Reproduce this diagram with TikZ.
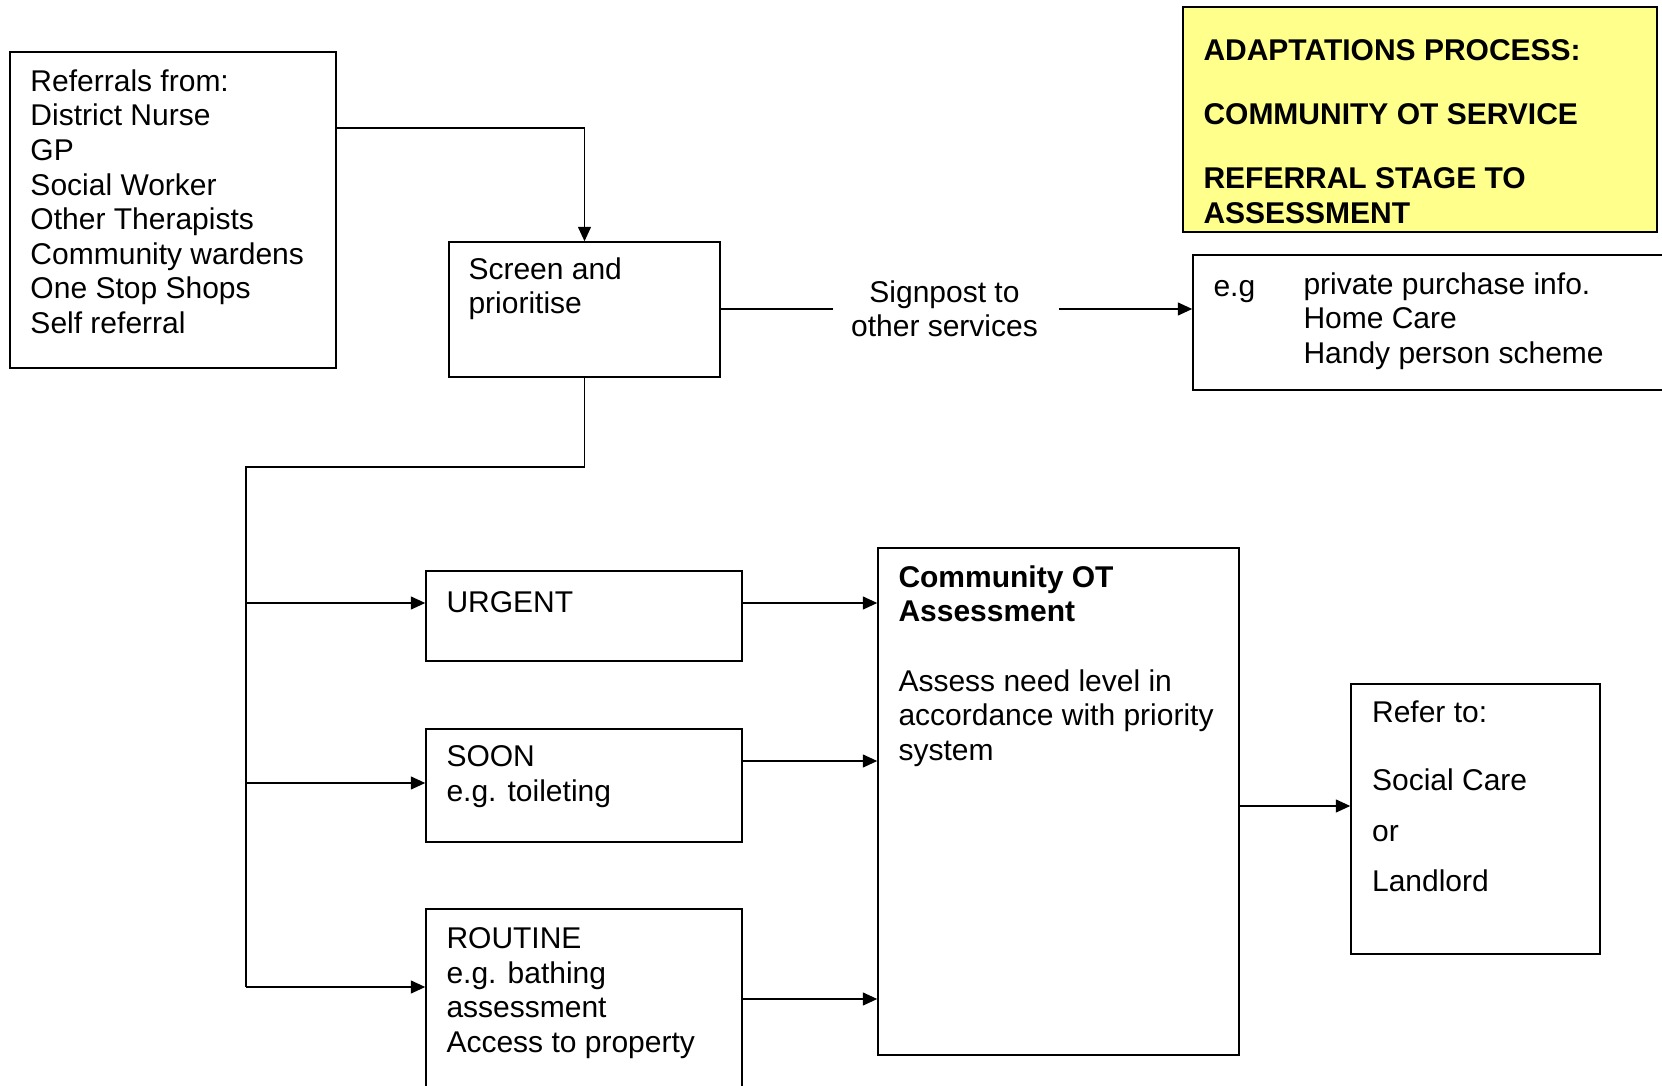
\documentclass[tikz,border=0pt]{standalone}
\usepackage{fontspec}
\setmainfont{Liberation Sans}
\usetikzlibrary{arrows.meta,fit}
\definecolor{paleyellow}{HTML}{FFFF8C}
\begin{document}
\begin{tikzpicture}[x=0.4pt,y=-0.4pt,
  box/.style={draw, line width=0.6pt, inner sep=0pt, fit={#1}},
  txt/.style={anchor=north west, inner sep=0pt, align=left,
    font=\fontsize{12}{13.84}\selectfont, execute at begin node=\strut},
  conn/.style={line width=0.6pt},
  arr/.style={line width=0.6pt, -{Triangle[length=5.8pt,width=5.2pt]}}]
\useasboundingbox (0,0) rectangle (1662,1086);
\fill[white] (0,0) rectangle (1662,1086);
\clip (0,0) rectangle (1662,1086);

% boxes
\node[box={(10,52) (336,368)}] (ref) {};
\node[box={(449,242) (720,377)}] (screen) {};
\node[box={(1183,7) (1657,232)}, fill=paleyellow] (title) {};
\node[box={(1193,255) (1690,390)}] (eg) {};
\node[box={(426,571) (742,661)}] (urgent) {};
\node[box={(426,729) (742,842)}] (soon) {};
\node[box={(426,909) (742,1110)}] (routine) {};
\node[box={(878,548) (1239,1055)}] (assess) {};
\node[box={(1351,684) (1600,954)}] (refer) {};

% texts
\node[txt] (reftext) at (30,69) {Referrals from:\\District Nurse\\GP\\Social Worker\\Other Therapists\\Community wardens\\One Stop Shops\\Self referral};
\node[txt] (screentext) at (468,257) {Screen and\\prioritise};
\node[txt, anchor=north, align=center] (signpost) at (944.5,280) {Signpost to\\other services};
\node[txt, font=\fontsize{12}{13.84}\selectfont\bfseries] (titletext) at (1203,39) {ADAPTATIONS PROCESS:\\[11.8pt]COMMUNITY OT SERVICE\\[11.8pt]REFERRAL STAGE TO\\ASSESSMENT};
\node[txt] (eglabel) at (1213,272) {e.g};
\node[txt] (egtext) at (1303,272) {private purchase info.\\Home Care\\Handy person scheme};
\node[txt] (urgenttext) at (446,588) {URGENT};
\node[txt] (soontext) at (446,745) {SOON\\e.g. toileting};
\node[txt] (routinetext) at (446,927) {ROUTINE\\e.g. bathing\\assessment\\Access to property};
\node[txt] (assesstext) at (898,565) {\textbf{Community OT}\\\textbf{Assessment}\\[13.84pt]Assess need level in\\accordance with priority\\system};
\node[txt] (refertext) at (1371.6,700) {Refer to:\\[13.4pt]Social Care\\[6.6pt]or\\[6.2pt]Landlord};

% connectors
\coordinate (refout) at (336,128);
\draw[arr] (refout) -| (screen.north);
\coordinate (sgl) at (833,309);
\coordinate (sgr) at (1059,309);
\draw[conn] (screen.east |- sgl) -- (sgl);
\draw[arr] (sgr) -- (eg.west |- sgr);
\coordinate (trunk) at (246,467);
\coordinate (trunkend) at (246,987);
\draw[conn] (screen.south) |- (trunk) -- (trunkend);
\draw[arr] (trunk |- 0,603) -- (urgent.west |- 0,603);
\draw[arr] (trunk |- 0,783) -- (soon.west |- 0,783);
\draw[arr] (trunkend) -- (routine.west |- trunkend);
\draw[arr] (urgent.east |- 0,603) -- (assess.west |- 0,603);
\draw[arr] (soon.east |- 0,761) -- (assess.west |- 0,761);
\draw[arr] (routine.east |- 0,999) -- (assess.west |- 0,999);
\draw[arr] (assess.east |- 0,806) -- (refer.west |- 0,806);
\end{tikzpicture}
\end{document}
